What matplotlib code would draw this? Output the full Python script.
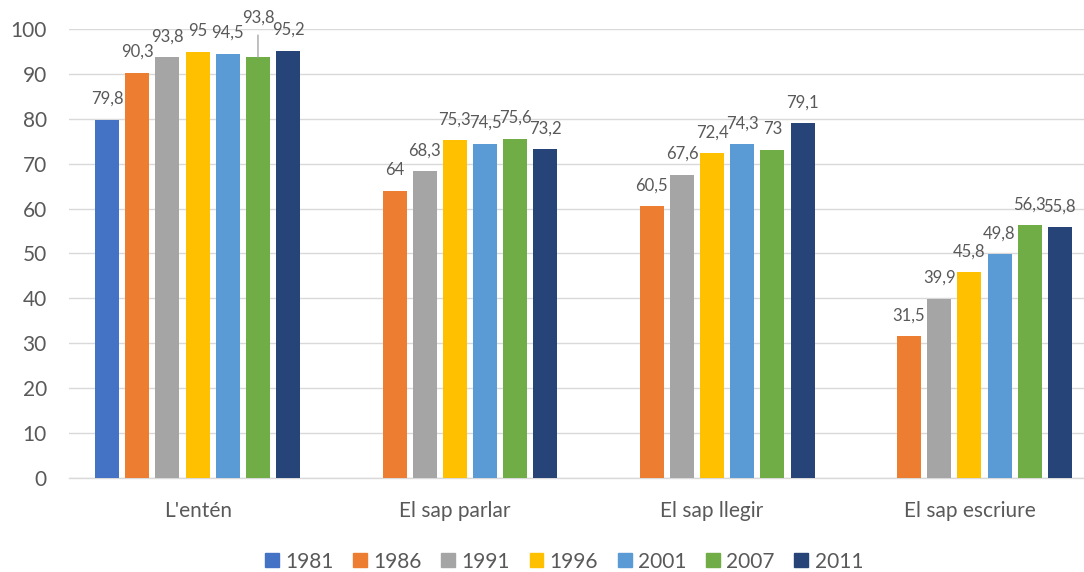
import numpy as np
import matplotlib.pyplot as plt
from matplotlib.patches import Patch

plt.rcParams['font.family'] = ['Lato', 'DejaVu Sans']

categories = ["L'entén", "El sap parlar", "El sap llegir", "El sap escriure"]
years = ["1981", "1986", "1991", "1996", "2001", "2007", "2011"]
colors = ["#4472C4", "#ED7D31", "#A5A5A5", "#FFC000", "#5B9BD5", "#70AD47", "#264478"]

v1981 = [79.8, np.nan, np.nan, np.nan]
v1986 = [90.3, 64.0, 60.5, 31.5]
v1991 = [93.8, 68.3, 67.6, 39.9]
v1996 = [95.0, 75.3, 72.4, 45.8]
v2001 = [94.5, 74.5, 74.3, 49.8]
v2007 = [93.8, 75.6, 73.0, 56.3]
v2011 = [95.2, 73.2, 79.1, 55.8]
series = [v1981, v1986, v1991, v1996, v2001, v2007, v2011]

txt = "#595959"
grid = "#D9D9D9"

fig = plt.figure(figsize=(10.84, 5.72), dpi=100)
# plot area runs a little past the right edge of the image
ax = fig.add_axes([69 / 1084, 0.1652, 1029 / 1084, 0.7836])

x = np.arange(len(categories))
pitch = 0.1173
width = 0.0933

for i, (vals, col) in enumerate(zip(series, colors)):
    xs = x + (i - 3) * pitch
    ax.bar(xs, vals, width, color=col, zorder=3)
    for j, (xv, v) in enumerate(zip(xs, vals)):
        if np.isnan(v):
            continue
        lab = f"{v:g}".replace(".", ",")
        if i == 5 and j == 0:
            # label pushed up with a leader line
            ax.annotate(lab, (xv, v), xytext=(0, 24.5), textcoords="offset points",
                        ha="center", va="baseline", fontsize=12, color=txt,
                        arrowprops=dict(arrowstyle="-", color="#A6A6A6", lw=1,
                                        shrinkA=4.5, shrinkB=0))
        else:
            ax.annotate(lab, (xv, v), xytext=(0, 11.4), textcoords="offset points",
                        ha="center", va="baseline", fontsize=12, color=txt)

ax.set_xlim(-0.5, 3.5)
ax.set_ylim(0, 100)
ax.set_yticks(np.arange(0, 101, 10))
ax.set_xticks(x)
ax.set_xticklabels(categories)
ax.tick_params(axis="both", length=0, labelsize=15, labelcolor=txt)
ax.tick_params(axis="y", pad=16)
ax.tick_params(axis="x", pad=17)
ax.yaxis.grid(True, color=grid, lw=1, zorder=0)
for s in ["top", "right", "left"]:
    ax.spines[s].set_visible(False)
ax.spines["bottom"].set_color(grid)
ax.spines["bottom"].set_linewidth(1)

handles = [Patch(color=c, label=y) for c, y in zip(colors, years)]
fig.legend(handles=handles, loc="center", bbox_to_anchor=(564 / 1084, 0.018),
           ncol=7, frameon=False, fontsize=15, labelcolor=txt,
           handlelength=0.67, handleheight=0.67, handletextpad=0.3,
           columnspacing=0.94, borderpad=0)

fig.savefig("out.png", dpi=100)
